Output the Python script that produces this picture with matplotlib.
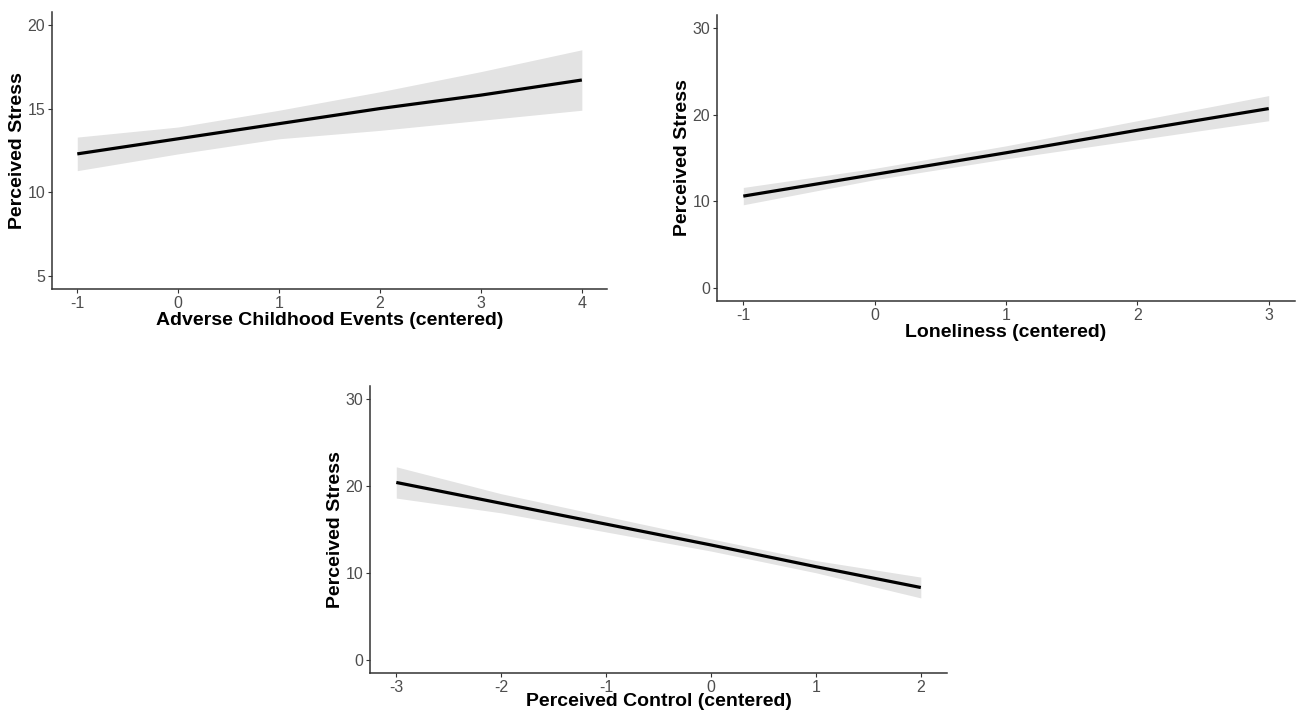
import numpy as np
import matplotlib.pyplot as plt

plt.rcParams['font.family'] = ['Liberation Sans', 'DejaVu Sans']

# panel 1: adverse childhood events
ace_x = [-1, 0, 1, 2, 3, 4]
ace_fit = [12.3, 13.2, 14.1, 15.0, 15.8, 16.7]
ace_lo = [11.3, 12.3, 13.2, 13.7, 14.3, 14.9]
ace_hi = [13.3, 13.9, 14.9, 16.0, 17.2, 18.5]

# panel 2: loneliness
lon_x = [-1, 0, 1, 2, 3]
lon_fit = [10.6, 13.1, 15.6, 18.2, 20.7]
lon_lo = [9.6, 12.5, 14.9, 17.1, 19.3]
lon_hi = [11.6, 13.8, 16.4, 19.3, 22.2]

# panel 3: perceived control
pc_x = [-3, -2, -1, 0, 1, 2]
pc_fit = [20.4, 18.0, 15.6, 13.2, 10.7, 8.3]
pc_lo = [18.6, 16.9, 14.7, 12.5, 10.0, 7.1]
pc_hi = [22.2, 19.1, 16.5, 13.9, 11.4, 9.5]

panels = [
    ([0.0401, 0.5935, 0.4276, 0.3896], ace_x, ace_fit, ace_lo, ace_hi,
     'Adverse Childhood Events (centered)', [5, 10, 15, 20], (5, 20), 1),
    ([0.5524, 0.5767, 0.4453, 0.4022], lon_x, lon_fit, lon_lo, lon_hi,
     'Loneliness (centered)', [0, 10, 20, 30], (0, 30), 1),
    ([0.2851, 0.054, 0.4445, 0.403], pc_x, pc_fit, pc_lo, pc_hi,
     'Perceived Control (centered)', [0, 10, 20, 30], (0, 30), -1),
]

fig = plt.figure(figsize=(12.98, 7.11), dpi=100)

for rect, x, fit, lo, hi, xlabel, yticks, ylim, xpad in panels:
    ax = fig.add_axes(rect)
    ax.fill_between(x, lo, hi, color='#e3e3e3', lw=0)
    ax.plot(x, fit, color='black', lw=2.3, solid_capstyle='butt')
    # ggplot style 5% expansion
    xr = x[-1] - x[0]
    ax.set_xlim(x[0] - 0.05 * xr, x[-1] + 0.05 * xr)
    yr = ylim[1] - ylim[0]
    ax.set_ylim(ylim[0] - 0.05 * yr, ylim[1] + 0.05 * yr)
    ax.set_xticks(x)
    ax.set_xticklabels([str(v) for v in x])
    ax.set_yticks(yticks)
    for s in ['top', 'right']:
        ax.spines[s].set_visible(False)
    for s in ['left', 'bottom']:
        ax.spines[s].set_color('#333333')
        ax.spines[s].set_linewidth(1.1)
    ax.tick_params(colors='#333333', labelcolor='#4d4d4d', labelsize=11.5,
                   length=3, width=0.8, pad=2)
    ax.set_xlabel(xlabel, fontsize=14, fontweight='bold', labelpad=xpad)
    ax.set_ylabel('Perceived Stress', fontsize=14, fontweight='bold', labelpad=1)

fig.savefig('out.png', dpi=100)
